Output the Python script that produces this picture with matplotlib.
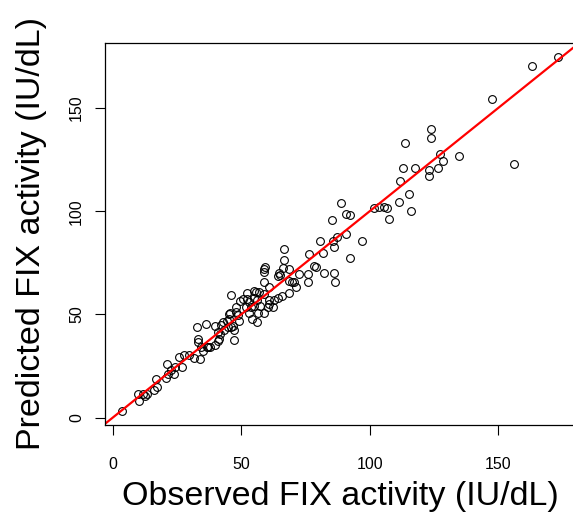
import numpy as np
import matplotlib
matplotlib.use("Agg")
import matplotlib.pyplot as plt

# observed vs predicted FIX activity (IU/dL)
observed = [
    3.7, 9.9, 10.3, 11.9, 12.7, 13.4, 16.2, 17.3, 17.0, 20.8,
    21.6, 21.2, 22.8, 24.0, 24.4, 27.1, 25.9, 27.9, 29.8, 31.8,
    34.1, 33.3, 33.3, 34.5, 36.8, 37.2, 35.3, 39.9, 32.9, 36.4,
    39.9, 41.1, 42.3, 43.1, 43.5, 45.0, 46.2, 45.4, 45.4, 47.3,
    48.1, 49.3, 48.9, 45.8, 44.6, 47.0, 47.3, 41.9, 38.0, 41.5,
    41.1, 54.4, 56.3, 56.7, 59.0, 53.2, 46.2, 49.7, 50.9, 52.4,
    52.4, 53.2, 52.0, 48.1, 53.9, 54.8, 54.8, 55.9, 57.1, 55.1,
    57.5, 56.3, 59.0, 60.6, 62.2, 61.0, 62.9, 64.5, 65.7, 58.7,
    61.0, 68.8, 71.5, 70.7, 69.6, 68.8, 61.0, 66.8, 66.8, 76.6,
    59.4, 59.0, 59.0, 66.1, 64.9, 65.3, 64.5, 68.8, 72.7, 76.2,
    76.2, 78.5, 79.3, 82.4, 86.3, 86.7, 80.5, 85.9, 87.5, 91.0,
    97.2, 86.3, 82.0, 92.2, 89.0, 91.0, 92.2, 85.5, 101.9, 103.5,
    105.8, 106.6, 107.4, 111.6, 116.3, 115.2, 112.0, 113.2, 117.5, 113.6,
    124.1, 124.1, 123.0, 123.3, 126.8, 127.6, 128.4, 135.0, 147.5, 156.1,
    163.1, 173.2,
]
predicted = [
    3.4, 11.2, 7.8, 11.2, 10.7, 11.6, 13.6, 14.6, 18.9, 19.4,
    21.3, 26.2, 23.3, 20.9, 24.3, 24.7, 29.6, 30.1, 30.1, 29.1,
    28.6, 36.4, 38.3, 34.0, 34.0, 34.4, 32.5, 35.4, 43.7, 45.6,
    44.6, 41.7, 45.1, 46.1, 42.7, 44.1, 44.1, 48.0, 50.0, 37.8,
    53.4, 47.0, 49.5, 50.9, 46.6, 44.6, 42.7, 40.7, 34.4, 38.3,
    36.9, 48.0, 46.1, 50.9, 50.9, 50.9, 59.2, 56.3, 57.7, 60.6,
    57.7, 55.8, 53.8, 51.4, 53.4, 58.2, 61.6, 61.1, 61.1, 54.3,
    54.3, 57.2, 60.1, 53.8, 53.8, 57.2, 57.2, 58.2, 58.7, 65.5,
    63.5, 60.6, 63.1, 65.5, 65.5, 66.0, 55.3, 81.5, 76.6, 79.1,
    73.2, 71.8, 70.8, 72.3, 70.3, 68.9, 68.4, 71.8, 69.8, 69.8,
    65.5, 73.7, 73.2, 70.3, 70.3, 65.5, 85.8, 85.8, 87.3, 89.2,
    85.4, 82.5, 80.0, 77.6, 103.8, 98.5, 98.0, 96.0, 101.4, 101.9,
    101.9, 101.4, 96.5, 104.3, 99.9, 108.6, 114.9, 120.8, 120.8, 132.9,
    139.7, 135.3, 119.8, 116.9, 120.8, 127.6, 124.2, 126.6, 154.2, 122.7,
    170.2, 174.6,
]
ticks = [0, 50, 100, 150]

plt.rcParams["font.family"] = ["Liberation Sans", "DejaVu Sans"]

fig = plt.figure(figsize=(5.73, 5.12), dpi=100)
ax = fig.add_axes([0.183, 0.1705, 0.8205, 0.745])

ax.plot(observed, predicted, "o", ms=5.6, mfc="none", mec="black", mew=0.8)
ax.axline((0, 0), slope=1, color="red", lw=1.6)


def padded(v):
    lo, hi = min(v), max(v)
    r = hi - lo
    return lo - 0.04 * r, hi + 0.04 * r


ax.set_xlim(padded(observed))
ax.set_ylim(padded(predicted))
ax.set_xticks(ticks)
ax.set_yticks(ticks)
ax.tick_params(direction="out", length=7, width=0.8, labelsize=11.5)
ax.tick_params(axis="x", pad=16)
ax.tick_params(axis="y", pad=8, labelrotation=90)
for lbl in ax.get_yticklabels():
    lbl.set_va("center")

for s in ax.spines.values():
    s.set_linewidth(0.9)

ax.set_xlabel("Observed FIX activity (IU/dL)", fontsize=24.5, labelpad=7)
ax.set_ylabel("Predicted FIX activity (IU/dL)", fontsize=24.5, labelpad=16)

fig.savefig("out.png", dpi=100)
